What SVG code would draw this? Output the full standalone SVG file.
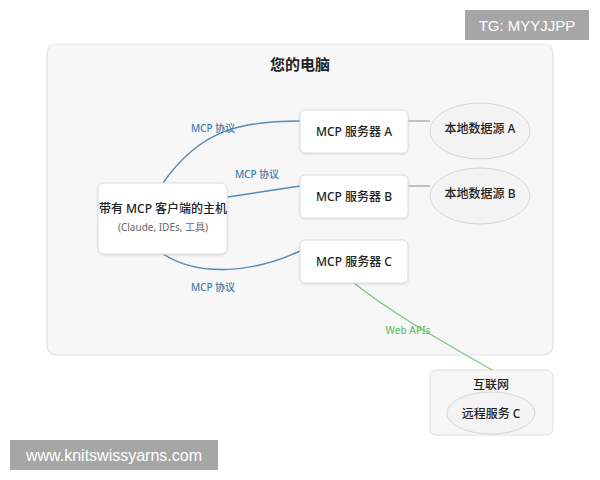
<svg xmlns="http://www.w3.org/2000/svg" width="600" height="480" viewBox="0 0 600 480">
<defs>
<filter id="sh" x="-10%" y="-10%" width="120%" height="130%"><feDropShadow dx="0" dy="1" stdDeviation="1" flood-color="#000" flood-opacity="0.12"/></filter>
</defs>
<style>
text{font-family:"Noto Sans","Noto Sans CJK SC",sans-serif;text-anchor:middle;dominant-baseline:central}
.box{fill:#fff;stroke:#dcdcdc;stroke-width:1;filter:url(#sh)}
.ell{fill:#f4f4f4;stroke:#d6d6d6;stroke-width:1}
.lbl{font-size:12px;fill:#222;font-weight:500}
.blue{fill:none;stroke:#5588b3;stroke-width:1.4}
.gray{fill:none;stroke:#aaa;stroke-width:1.4}
.green{fill:none;stroke:#7cc67c;stroke-width:1.2}
.el{font-size:10px;fill:#3a80ac;font-weight:500}
.wm{fill:#a6a6a6}
.wt{fill:#fff;font-family:"Liberation Sans",sans-serif}
</style>
<rect width="600" height="480" fill="#fff"/>
<g id="computer">
<rect x="47" y="44" width="506" height="311" rx="9" fill="#f7f7f7" stroke="#e2e2e2" stroke-width="1.2"/>
<text x="300" y="64" font-size="15" font-weight="bold" fill="#222">您的电脑</text>
</g>
<g id="internet">
<rect x="430" y="370" width="123" height="65" rx="6" fill="#f7f7f7" stroke="#dedede" stroke-width="1"/>
<text x="491" y="384" class="lbl">互联网</text>
</g>
<g id="connectors">
<path class="blue" d="M163,183 C200,130 240,121 300,121"/>
<path class="blue" d="M228,197 L300,186"/>
<path class="blue" d="M163,254 C200,278 255,272 300,251"/>
<path class="gray" d="M408,121 L430,121"/>
<path class="gray" d="M408,186 L430,186"/>
<path class="green" d="M354,283 C390,312 440,340 492,370"/>
<text x="213" y="128" class="el">MCP 协议</text>
<text x="257" y="174" class="el">MCP 协议</text>
<text x="213" y="287" class="el">MCP 协议</text>
<text x="408" y="330" font-size="10" fill="#6cc06c" font-weight="500">Web APIs</text>
</g>
<g id="host">
<rect class="box" x="98" y="183" width="129" height="71" rx="6"/>
<text x="163" y="208" class="lbl">带有 MCP 客户端的主机</text>
<text x="163" y="227" font-size="10" fill="#666">(Claude, IDEs, 工具)</text>
</g>
<g id="serverA">
<rect class="box" x="300" y="110" width="108" height="43" rx="5"/>
<text x="354" y="131" class="lbl">MCP 服务器 A</text>
</g>
<g id="serverB">
<rect class="box" x="300" y="175" width="108" height="43" rx="5"/>
<text x="354" y="196" class="lbl">MCP 服务器 B</text>
</g>
<g id="serverC">
<rect class="box" x="300" y="240" width="108" height="43" rx="5"/>
<text x="354" y="261" class="lbl">MCP 服务器 C</text>
</g>
<g id="dataA">
<ellipse class="ell" cx="480" cy="131" rx="50" ry="28"/>
<text x="480" y="128" class="lbl">本地数据源 A</text>
</g>
<g id="dataB">
<ellipse class="ell" cx="480" cy="196" rx="50" ry="28"/>
<text x="480" y="193" class="lbl">本地数据源 B</text>
</g>
<g id="remoteC">
<ellipse class="ell" cx="491" cy="413" rx="44" ry="21"/>
<text x="491" y="413" class="lbl">远程服务 C</text>
</g>
<g id="watermarks">
<rect class="wm" x="465" y="10" width="124" height="30"/>
<text x="527" y="25" class="wt" font-size="15">TG: MYYJJPP</text>
<rect class="wm" x="10" y="440" width="208" height="30"/>
<text x="114" y="455" class="wt" font-size="16">www.knitswissyarns.com</text>
</g>
</svg>
